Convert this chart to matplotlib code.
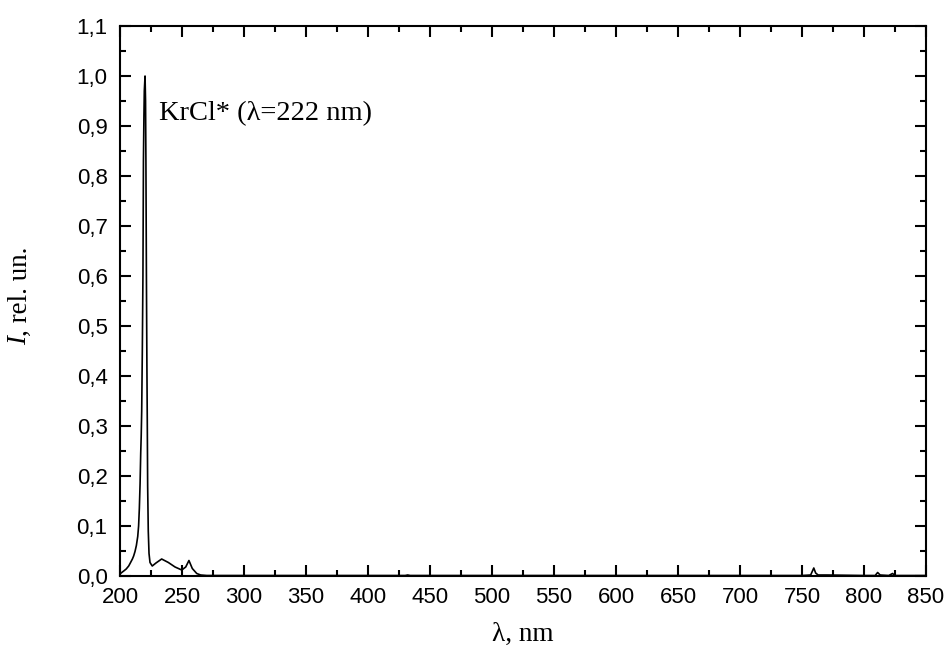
import matplotlib
matplotlib.use("Agg")
import matplotlib.pyplot as plt
from matplotlib.ticker import MultipleLocator, FixedLocator, FixedFormatter

# Spectrum (wavelength nm, relative intensity)
wavelength = [200, 201.4, 203, 205, 207, 208.1, 210, 211, 212.1, 213.2, 214.3, 215,
              215.6, 216.2, 216.7, 217.1, 217.5, 218.0, 218.5, 218.9, 219.3, 219.6,
              220.2, 220.6, 220.9, 221.3, 221.7, 222.0, 222.3, 222.8, 223.4, 224.2,
              226, 229, 233.6, 239, 244.4, 249.8, 253, 255.6, 258.3, 261.9, 265,
              270, 280, 300, 350, 400, 430, 432, 434, 450, 500, 550, 600, 650, 700,
              750, 757, 759.5, 761, 763, 770, 800, 809, 811, 813, 820, 823, 825, 830, 850]
intensity = [0.004, 0.007, 0.010, 0.014, 0.020, 0.025, 0.034, 0.040, 0.049, 0.061, 0.079, 0.100,
             0.135, 0.185, 0.245, 0.28, 0.33, 0.45, 0.60, 0.83, 0.92, 0.97,
             1.0, 0.95, 0.83, 0.60, 0.42, 0.31, 0.18, 0.09, 0.045, 0.027,
             0.020, 0.026, 0.034, 0.027, 0.018, 0.012, 0.018, 0.031, 0.015, 0.005, 0.002,
             0.001, 0.001, 0.001, 0.001, 0.001, 0.001, 0.002, 0.001, 0.001, 0.001, 0.001, 0.001, 0.001, 0.001,
             0.001, 0.002, 0.016, 0.006, 0.002, 0.002, 0.001, 0.001, 0.007, 0.002, 0.001, 0.005, 0.001, 0.001, 0.001]

x_ticks = [200, 250, 300, 350, 400, 450, 500, 550, 600, 650, 700, 750, 800, 850]
y_ticks = [0.0, 0.1, 0.2, 0.3, 0.4, 0.5, 0.6, 0.7, 0.8, 0.9, 1.0, 1.1]
y_tick_labels = ["0,0", "0,1", "0,2", "0,3", "0,4", "0,5", "0,6", "0,7", "0,8", "0,9", "1,0", "1,1"]
annotation = "KrCl* (\u03bb=222 nm)"

fig = plt.figure(figsize=(9.48, 6.54), dpi=100)
ax = fig.add_axes([120/948, 1-576/654, 806/948, 550/654])

ax.plot(wavelength, intensity, color="black", lw=1.2)

ax.set_xlim(200, 850)
ax.set_ylim(0, 1.1)
ax.xaxis.set_major_locator(FixedLocator(x_ticks))
ax.xaxis.set_minor_locator(MultipleLocator(25))
ax.yaxis.set_major_locator(FixedLocator(y_ticks))
ax.yaxis.set_major_formatter(FixedFormatter(y_tick_labels))
ax.yaxis.set_minor_locator(MultipleLocator(0.05))

ax.tick_params(which="both", direction="in", top=True, right=True, width=1.5)
ax.tick_params(which="major", length=8)
ax.tick_params(which="minor", length=4.5)
ax.tick_params(axis="x", which="major", pad=8)
ax.tick_params(axis="y", which="major", pad=9)
for lab in ax.get_xticklabels() + ax.get_yticklabels():
    lab.set_fontfamily("Liberation Sans")
    lab.set_fontsize(16)
for sp in ax.spines.values():
    sp.set_linewidth(1.5)

ax.set_xlabel("\u03bb, nm", fontfamily="Liberation Serif", fontsize=19.5, labelpad=10)

ax.text(231.5, 0.912, annotation, fontfamily="Liberation Serif", fontsize=20.5,
        ha="left", va="baseline")

# y label: italic "I" followed by upright ", rel. un."
fig.canvas.draw()
r = fig.canvas.get_renderer()
ta = fig.text(0, 0, "I", rotation=90, fontfamily="Liberation Serif",
              fontstyle="italic", fontsize=19.5, ha="center", va="bottom")
tb = fig.text(0, 0, ", rel. un.", rotation=90, fontfamily="Liberation Serif",
              fontsize=19.5, ha="center", va="bottom")
ha_ = ta.get_window_extent(r).height
hb_ = tb.get_window_extent(r).height
cy = 296
bottom_px = cy + (ha_ + hb_) / 2
ta.set_position((20/948, 1 - bottom_px/654))
tb.set_position((20/948, 1 - (bottom_px - ha_)/654))

fig.savefig("out.png", dpi=100)
